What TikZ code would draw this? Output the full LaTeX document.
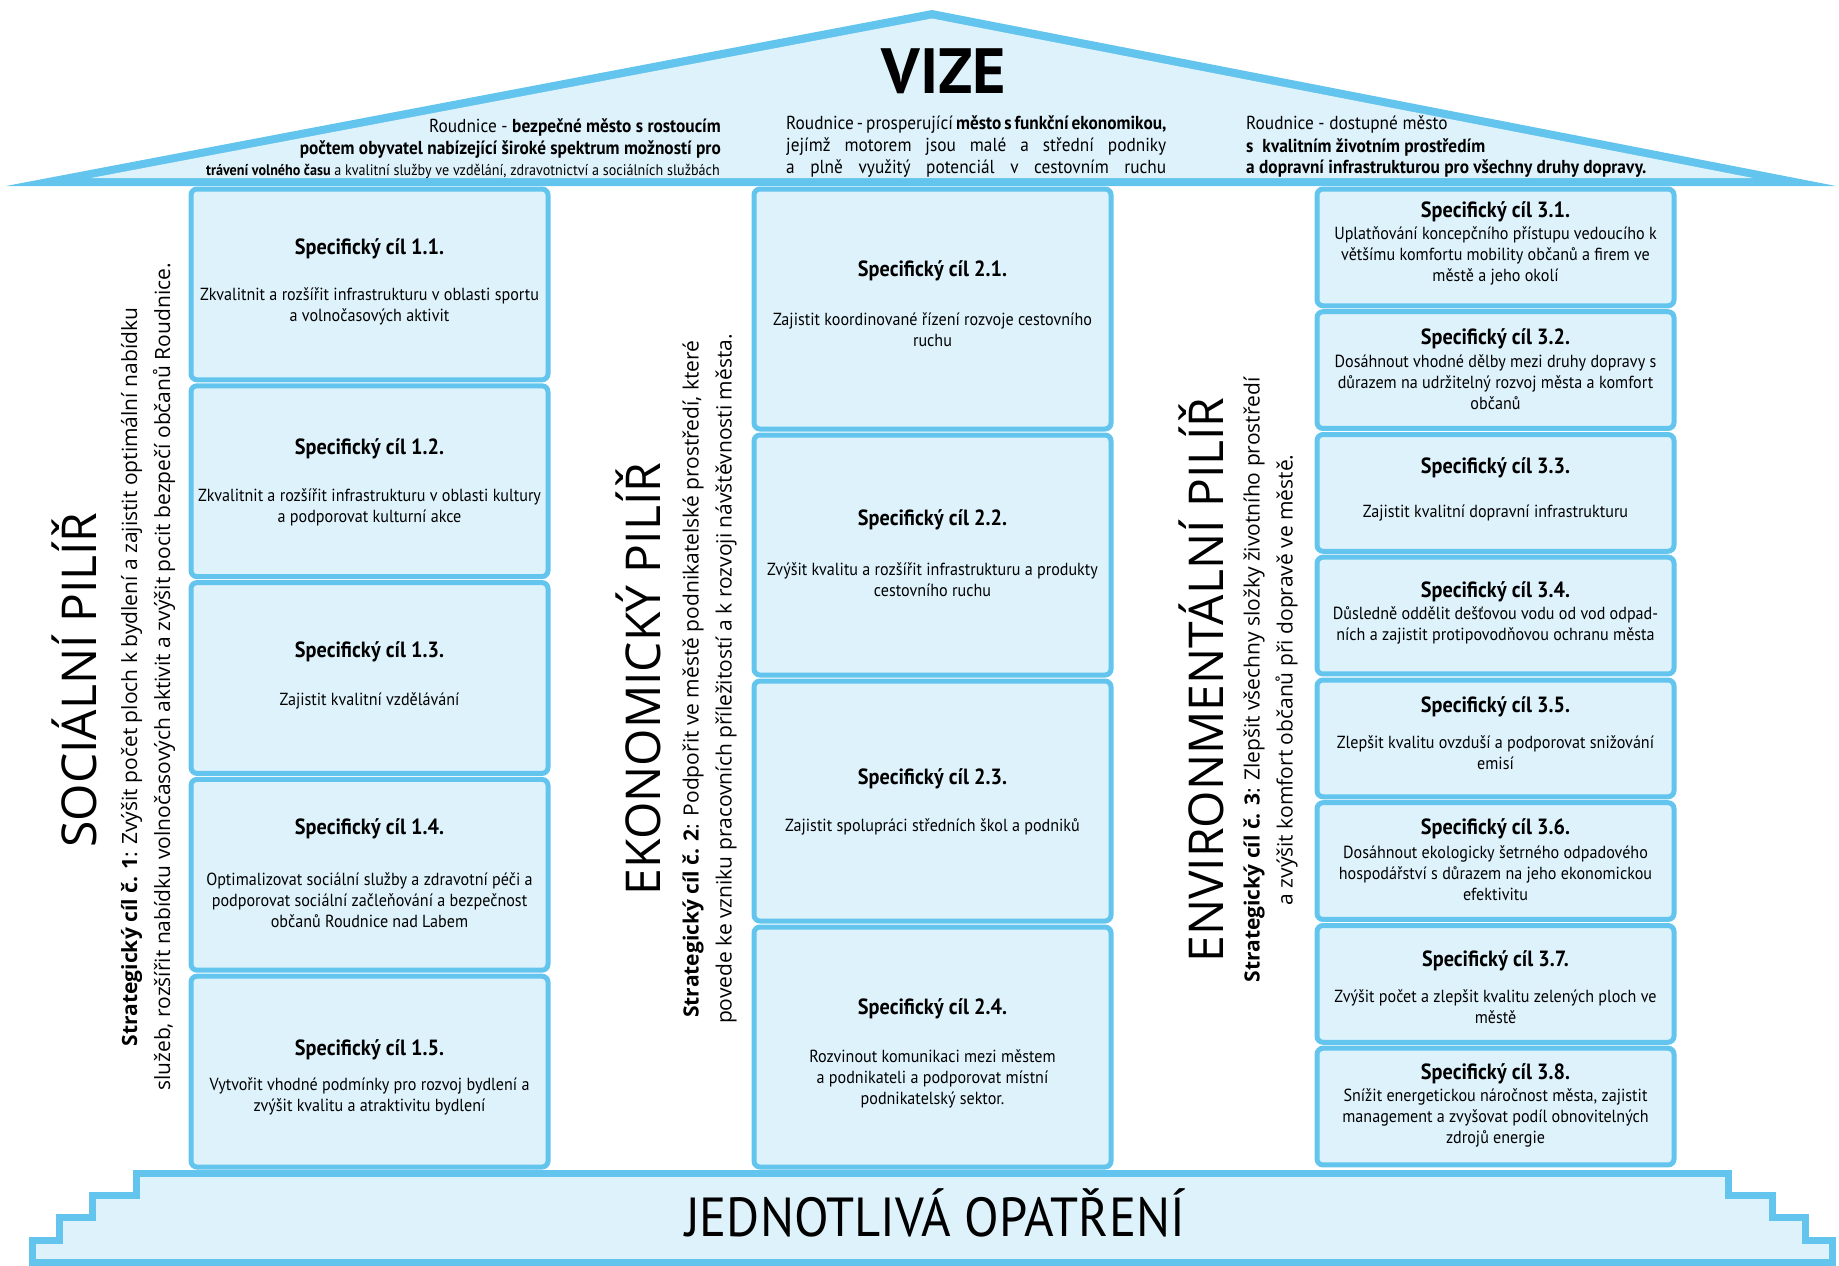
\documentclass[tikz,border=0pt]{standalone}
\usepackage{fontspec}
\setmainfont{Open Sans}
\newfontfamily\cond[FakeStretch=0.92]{PT Sans}
\newfontfamily\vizefont{PT Sans}
\definecolor{pblue}{HTML}{63C4EE}
\definecolor{plight}{HTML}{DEF2FB}
\begin{document}
\begin{tikzpicture}[x=1pt,y=-1pt,
  box/.style={draw=pblue, fill=plight, line width=5pt, rounded corners=6pt, inner sep=0pt, outer sep=0pt},
  ttl/.style={font=\cond\bfseries\fontsize{22}{25}\selectfont, inner sep=0pt},
  txt/.style={font=\cond\fontsize{17.5}{21}\selectfont, align=center, inner sep=0pt},
  pil/.style={rotate=90, anchor=base, font=\fontsize{48}{56}\selectfont, inner sep=0pt},
  sub/.style={rotate=90, font=\fontsize{21}{33}\selectfont, align=center, inner sep=0pt},
  rooftxt/.style={font=\cond\fontsize{18.8}{21}\selectfont, inner sep=0pt},
  rooftxs/.style={font=\cond\fontsize{15.35}{21}\selectfont, inner sep=0pt},
  basepath/.style={draw=pblue, fill=plight, line width=7pt, line join=miter}
]
\useasboundingbox (0,0) rectangle (1839,1266);

% roof
\fill[pblue] (6,186) -- (932,10) -- (1836,186) -- cycle;
\fill[plight] (91,178) -- (932,18.5) -- (1753,178) -- cycle;

\node[font=\vizefont\bfseries\fontsize{64}{70}\selectfont, inner sep=0pt] (vize) at (944,71) {VIZE};

% roof texts, column A
\node[rooftxt, anchor=base east] (ra1) at (721,132) {Roudnice - \textbf{bezpečné město s rostoucím}};
\node[rooftxt, anchor=base east] (ra2) at (721,154) {\textbf{počtem obyvatel nabízející široké spektrum možností pro}};
\node[rooftxs, anchor=base east] (ra3) at (720,175) {\textbf{trávení volného času} a kvalitní služby ve vzdělání, zdravotnictví a sociálních službách};
% column B
\node[rooftxt, anchor=base west] (rb1) at (786,129) {\makebox[380pt][s]{Roudnice - prosperující \textbf{město s funkční ekonomikou,}}};
\node[rooftxt, anchor=base west] (rb2) at (786,151) {\makebox[380pt][s]{jejímž motorem jsou malé a střední podniky}};
\node[rooftxt, anchor=base west] (rb3) at (786,173) {\makebox[380pt][s]{a plně využitý potenciál v cestovním ruchu}};
% column C
\node[rooftxt, anchor=base west] (rc1) at (1246,129) {Roudnice - dostupné město};
\node[rooftxt, anchor=base west] (rc2) at (1246,152) {\textbf{s\ \ kvalitním životním prostředím}};
\node[rooftxt, anchor=base west] (rc3) at (1246,173) {\textbf{a dopravní infrastrukturou pro všechny druhy dopravy.}};

% column 1 boxes
\node[box, minimum width=357pt, minimum height=190.8pt] (b11) at (369.5,284.4) {};
\node[box, minimum width=357pt, minimum height=190.8pt] (b12) at (369.5,481.2) {};
\node[box, minimum width=357pt, minimum height=190.8pt] (b13) at (369.5,678.0) {};
\node[box, minimum width=357pt, minimum height=190.8pt] (b14) at (369.5,874.8) {};
\node[box, minimum width=357pt, minimum height=190.8pt] (b15) at (369.5,1071.6) {};
% column 2 boxes
\node[box, minimum width=357pt, minimum height=240pt] (b21) at (932.5,309) {};
\node[box, minimum width=357pt, minimum height=240pt] (b22) at (932.5,555) {};
\node[box, minimum width=357pt, minimum height=240pt] (b23) at (932.5,801) {};
\node[box, minimum width=357pt, minimum height=240pt] (b24) at (932.5,1047) {};
% column 3 boxes
\node[box, minimum width=357pt, minimum height=116.75pt] (b31) at (1495.5,247.4) {};
\node[box, minimum width=357pt, minimum height=116.75pt] (b32) at (1495.5,370.1) {};
\node[box, minimum width=357pt, minimum height=116.75pt] (b33) at (1495.5,492.9) {};
\node[box, minimum width=357pt, minimum height=116.75pt] (b34) at (1495.5,615.6) {};
\node[box, minimum width=357pt, minimum height=116.75pt] (b35) at (1495.5,738.4) {};
\node[box, minimum width=357pt, minimum height=116.75pt] (b36) at (1495.5,861.1) {};
\node[box, minimum width=357pt, minimum height=116.75pt] (b37) at (1495.5,983.9) {};
\node[box, minimum width=357pt, minimum height=116.75pt] (b38) at (1495.5,1106.6) {};

% base
\draw[basepath] (136,1173) -- (1728,1173) -- (1728,1195) -- (1772,1195) -- (1772,1217) -- (1805,1217) -- (1805,1240) -- (1832,1240) -- (1832,1262) -- (32,1262) -- (32,1240) -- (59,1240) -- (59,1217) -- (92,1217) -- (92,1195) -- (136,1195) -- cycle;
\node[font=\cond\fontsize{55}{60}\selectfont, inner sep=0pt, anchor=base] (opat) at (935,1236) {JEDNOTLIVÁ OPATŘENÍ};

% column 1 texts
\node[ttl] (t11) at (369.5,249) {Specifický cíl 1.1.};
\node[txt] (d11) at (369.5,306.5) {Zkvalitnit a rozšířit infrastrukturu v oblasti sportu\\a volnočasových aktivit};
\node[ttl] (t12) at (369.5,449) {Specifický cíl 1.2.};
\node[txt] (d12) at (369.5,507.5) {Zkvalitnit a rozšířit infrastrukturu v oblasti kultury\\a podporovat kulturní akce};
\node[ttl] (t13) at (369.5,652) {Specifický cíl 1.3.};
\node[txt] (d13) at (369.5,701) {Zajistit kvalitní vzdělávání};
\node[ttl] (t14) at (369.5,829) {Specifický cíl 1.4.};
\node[txt] (d14) at (369.5,900) {Optimalizovat sociální služby a zdravotní péči a\\podporovat sociální začleňování a bezpečnost\\občanů Roudnice nad Labem};
\node[ttl] (t15) at (369.5,1050) {Specifický cíl 1.5.};
\node[txt] (d15) at (369.5,1096.5) {Vytvořit vhodné podmínky pro rozvoj bydlení a\\zvýšit kvalitu a atraktivitu bydlení};

% column 2 texts
\node[ttl] (t21) at (932.5,271) {Specifický cíl 2.1.};
\node[txt] (d21) at (932.5,329.5) {Zajistit koordinované řízení rozvoje cestovního\\ruchu};
\node[ttl] (t22) at (932.5,520) {Specifický cíl 2.2.};
\node[txt] (d22) at (932.5,579.5) {Zvýšit kvalitu a rozšířit infrastrukturu a produkty\\cestovního ruchu};
\node[ttl] (t23) at (932.5,779) {Specifický cíl 2.3.};
\node[txt] (d23) at (932.5,827) {Zajistit spolupráci středních škol a podniků};
\node[ttl] (t24) at (932.5,1009) {Specifický cíl 2.4.};
\node[txt] (d24) at (932.5,1079) {Rozvinout komunikaci mezi městem\\a podnikateli a podporovat místní\\podnikatelský sektor.};

% column 3 texts
\node[ttl] (t31) at (1495.5,212) {Specifický cíl 3.1.};
\node[txt] (d31) at (1495.5,256) {Uplatňování koncepčního přístupu vedoucího k\\většímu komfortu mobility občanů a firem ve\\městě a jeho okolí};
\node[ttl] (t32) at (1495.5,339) {Specifický cíl 3.2.};
\node[txt] (d32) at (1495.5,382.5) {Dosáhnout vhodné dělby mezi druhy dopravy s\\důrazem na udržitelný rozvoj města a komfort\\občanů};
\node[ttl] (t33) at (1495.5,468) {Specifický cíl 3.3.};
\node[txt] (d33) at (1495.5,513) {Zajistit kvalitní dopravní infrastrukturu};
\node[ttl] (t34) at (1495.5,592) {Specifický cíl 3.4.};
\node[txt] (d34) at (1495.5,625.5) {Důsledně oddělit dešťovou vodu od vod odpad-\\ních a zajistit protipovodňovou ochranu města};
\node[ttl] (t35) at (1495.5,707) {Specifický cíl 3.5.};
\node[txt] (d35) at (1495.5,753) {Zlepšit kvalitu ovzduší a podporovat snižování\\emisí};
\node[ttl] (t36) at (1495.5,829) {Specifický cíl 3.6.};
\node[txt] (d36) at (1495.5,873) {Dosáhnout ekologicky šetrného odpadového\\hospodářství s důrazem na jeho ekonomickou\\efektivitu};
\node[ttl] (t37) at (1495.5,961) {Specifický cíl 3.7.};
\node[txt] (d37) at (1495.5,1006.5) {Zvýšit počet a zlepšit kvalitu zelených ploch ve\\městě};
\node[ttl] (t38) at (1495.5,1074) {Specifický cíl 3.8.};
\node[txt] (d38) at (1495.5,1118) {Snížit energetickou náročnost města, zajistit\\management a zvyšovat podíl obnovitelných\\zdrojů energie};

% pillars (rotated)
\node[pil] (p1) at (96,680) {SOCIÁLNÍ PILÍŘ};
\node[sub] (s1) at (148,677) {\textbf{Strategický cíl č. 1}: Zvýšit počet ploch k bydlení a zajistit optimální nabídku\\služeb, rozšířit nabídku volnočasových aktivit a zvýšit pocit bezpečí občanů Roudnice.};
\node[pil] (p2) at (660,679) {EKONOMICKÝ PILÍŘ};
\node[sub] (s2) at (709.5,679) {\textbf{Strategický cíl č. 2}: Podpořit ve městě podnikatelské prostředí, které\\povede ke vzniku pracovních příležitostí a k rozvoji návštěvnosti města.};
\node[pil] (p3) at (1223,680) {ENVIRONMENTÁLNÍ PILÍŘ};
\node[sub] (s3) at (1270.5,680) {\textbf{Strategický cíl č. 3}: Zlepšit všechny složky životního prostředí\\a zvýšit komfort občanů při dopravě ve městě.};
\end{tikzpicture}
\end{document}
